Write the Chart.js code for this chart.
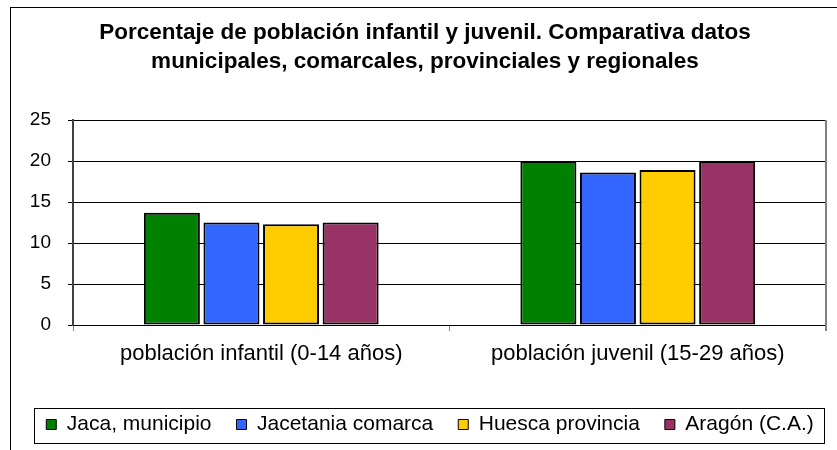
<!DOCTYPE html>
<html>
<head>
<meta charset="utf-8">
<script src="https://cdn.jsdelivr.net/npm/chart.js@4"></script>
<style>
  html, body { margin: 0; padding: 0; background: #fff; }
  #wrap { width: 837px; height: 450px; }
</style>
</head>
<body>
<div id="wrap"><canvas id="myChart" width="837" height="450"></canvas></div>
<script>
// categorias del eje x
const categories = ['población infantil (0-14 años)', 'población juvenil (15-29 años)'];

// series (porcentaje)
const jaca = [13.7, 20.0];
const jacetania = [12.5, 18.6];
const huesca = [12.3, 18.9];
const aragon = [12.5, 20.0];

const seriesNames = ['Jaca, municipio', 'Jacetania comarca', 'Huesca provincia', 'Aragón (C.A.)'];
const seriesColors = ['#008000', '#3366FF', '#FFCC00', '#993366'];

const yTicks = [0, 5, 10, 15, 20, 25];

const titleLines = [
  'Porcentaje de población infantil y juvenil. Comparativa datos',
  'municipales, comarcales, provinciales y regionales',
];

const font = 'Liberation Sans, Arial, sans-serif';

// marco exterior, borde derecho del area y recuadro de leyenda
const framePlugin = {
  id: 'framePlugin',
  afterLayout(chart) {
    // desplazar leyenda y titulo como en el original
    chart.legend.left += 17;
    chart.legend.right += 17;
    chart.titleBlock.left += 12;
    chart.titleBlock.right += 12;
  },
  beforeDraw(chart) {
    const c = chart.ctx;
    c.save();
    c.fillStyle = '#fff';
    c.fillRect(0, 0, chart.width, chart.height);
    c.strokeStyle = '#000';
    c.lineWidth = 1;
    c.strokeRect(10.5, 7.5, 1000, 1000);
    c.restore();
  },
  afterDraw(chart) {
    const c = chart.ctx;
    const a = chart.chartArea;
    c.save();
    c.strokeStyle = '#808080';
    c.lineWidth = 2;
    c.beginPath();
    c.moveTo(a.right, a.top);
    c.lineTo(a.right, a.bottom + 6);
    c.stroke();
    const hb = chart.legend.legendHitBoxes;
    if (hb && hb.length) {
      const left = Math.min(...hb.map(h => h.left)) - 12;
      const right = Math.max(...hb.map(h => h.left + h.width)) + 11;
      const top = hb[0].top - 6;
      const bottom = hb[0].top + hb[0].height + 8;
      c.strokeStyle = '#000';
      c.lineWidth = 1;
      c.strokeRect(Math.round(left) + 0.5, Math.round(top) + 0.5, Math.round(right - left), Math.round(bottom - top));
    }
    c.restore();
  },
};

const datasets = [jaca, jacetania, huesca, aragon].map((vals, i) => ({
  label: seriesNames[i],
  data: vals,
  backgroundColor: seriesColors[i],
  borderColor: '#000',
  borderWidth: 2,
  borderSkipped: false,
  categoryPercentage: 0.633,
  barPercentage: 0.94,
}));

const ctx = document.getElementById('myChart').getContext('2d');

const myChart = new Chart(ctx, {
  type: 'bar',
  data: { labels: categories, datasets },
  options: {
    responsive: false,
    animation: false,
    layout: { padding: { left: 0, right: 11, top: 0, bottom: 5 } },
    plugins: {
      title: {
        display: true,
        text: titleLines,
        color: '#000',
        font: { family: font, size: 22.5, weight: 'bold', lineHeight: '29px' },
        padding: { top: 18, bottom: 44 },
      },
      legend: {
        position: 'bottom',
        maxHeight: 62,
        labels: {
          color: '#000',
          font: { family: font, size: 21 },
          boxWidth: 10,
          boxHeight: 10,
          padding: 25,
          generateLabels(chart) {
            return Chart.defaults.plugins.legend.labels.generateLabels(chart).map(l => ({ ...l, lineWidth: 1 }));
          },
        },
      },
      tooltip: { enabled: false },
    },
    scales: {
      x: {
        afterFit(scale) { scale.height = 64; },
        grid: {
          offset: true,
          drawOnChartArea: false,
          drawTicks: true,
          tickLength: 6,
          color: '#808080',
        },
        border: { color: '#000', width: 1 },
        ticks: { color: '#000', font: { family: font, size: 22 }, padding: 10 },
      },
      y: {
        min: 0,
        max: 25,
        afterFit(scale) { scale.width = 73; },
        afterBuildTicks(scale) { scale.ticks = yTicks.map(v => ({ value: v })); },
        grid: { color: '#000', lineWidth: 1, tickLength: 5 },
        border: { color: '#404040', width: 2 },
        ticks: { color: '#000', font: { family: font, size: 19 }, padding: 17 },
      },
    },
  },
  plugins: [framePlugin],
});
</script>
</body>
</html>
